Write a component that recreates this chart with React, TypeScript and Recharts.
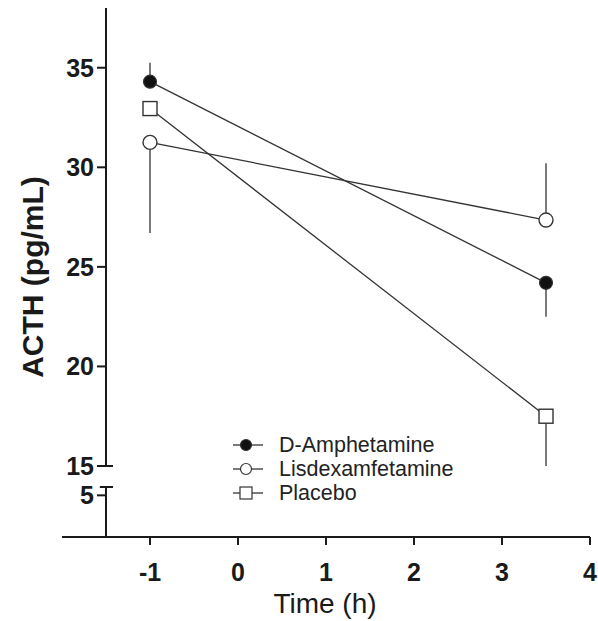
import React from "react";
import {
  LineChart,
  Line,
  XAxis,
  YAxis,
  ErrorBar,
  ReferenceLine,
  Legend,
} from "recharts";

// time points (h)
const times = [-1, 3.5];

// mean ACTH (pg/mL)
const dAmphetamine = [34.3, 24.2];
const lisdexamfetamine = [31.25, 27.35];
const placebo = [32.95, 17.5];

// one-sided SEM bars as [below, above]
const dAmphetamineErr = [[0, 0.95], [1.7, 0]];
const lisdexamfetamineErr = [[4.55, 0], [0, 2.85]];
const placeboErr = [[0, 0], [2.5, 0]];

const xTicks = [-1, 0, 1, 2, 3, 4];
const yTicksUpper = [15, 20, 25, 30, 35];
const yTicksLower = [5];

const seriesNames = ["D-Amphetamine", "Lisdexamfetamine", "Placebo"];

const data = times.map((t, i) => ({
  time: t,
  damph: dAmphetamine[i],
  damphErr: dAmphetamineErr[i],
  lisdex: lisdexamfetamine[i],
  lisdexErr: lisdexamfetamineErr[i],
  placebo: placebo[i],
  placeboErr: placeboErr[i],
}));

const FONT = "'Liberation Sans', Arial, sans-serif";
const AXIS = "#1a1a1a";
const LINE = "#333";
const ERR = "#7a7a7a";

const SquareDot = (props: any) => {
  const { cx, cy } = props;
  if (cx == null || cy == null) return null;
  return (
    <rect
      key={`sq-${cx}-${cy}`}
      x={cx - 7}
      y={cy - 7}
      width={14}
      height={14}
      fill="#fff"
      stroke={LINE}
      strokeWidth={1.4}
    />
  );
};

const marker = (i: number) => {
  if (i === 0) return <circle cx={13} cy={10} r={5.5} fill="#111" stroke={LINE} strokeWidth={1.2} />;
  if (i === 1) return <circle cx={13} cy={10} r={5.5} fill="#fff" stroke={LINE} strokeWidth={1.2} />;
  return <rect x={7} y={4} width={12} height={12} fill="#fff" stroke={LINE} strokeWidth={1.2} />;
};

const renderLegend = () => (
  <div style={{ fontFamily: FONT, fontSize: 21.5, color: "#222" }}>
    {seriesNames.map((name, i) => (
      <div key={name} style={{ display: "flex", alignItems: "center", height: 24 }}>
        <svg width={32} height={20} style={{ marginRight: 14 }}>
          <line x1={0} y1={10} x2={30} y2={10} stroke={LINE} strokeWidth={1.3} />
          {marker(i)}
        </svg>
        <span>{name}</span>
      </div>
    ))}
  </div>
);

const tickStyle = { fontFamily: FONT, fontSize: 25, fontWeight: 700, fill: "#1a1a1a" };

export default function App() {
  return (
    <div style={{ position: "absolute", left: 0, top: 0, width: 598, height: 621, background: "#fff" }}>
      {/* lower part: x axis and the short y segment below the break */}
      <div style={{ position: "absolute", left: 0, top: 0 }}>
        <LineChart width={598} height={621} data={data} margin={{ top: 487, right: 8, bottom: 0, left: 0 }}>
          <XAxis
            type="number"
            dataKey="time"
            domain={[-1.5, 4]}
            ticks={xTicks}
            allowDataOverflow
            height={84}
            tick={tickStyle}
            tickSize={8}
            tickMargin={18}
            axisLine={{ stroke: AXIS, strokeWidth: 2 }}
            tickLine={{ stroke: AXIS, strokeWidth: 2 }}
            label={{
              content: () => (
                <text x={325} y={613} textAnchor="middle" fontFamily={FONT} fontSize={28} fill="#1a1a1a">
                  Time (h)
                </text>
              ),
            }}
          />
          <YAxis
            type="number"
            domain={[0, 6]}
            ticks={yTicksLower}
            allowDataOverflow
            width={106}
            tick={tickStyle}
            tickSize={9}
            tickMargin={3}
            axisLine={{ stroke: AXIS, strokeWidth: 2 }}
            tickLine={{ stroke: AXIS, strokeWidth: 2 }}
          />
          <ReferenceLine
            segment={[{ x: -2, y: 0 }, { x: -1.5, y: 0 }]}
            stroke={AXIS}
            strokeWidth={2}
            ifOverflow="visible"
          />
          <ReferenceLine
            segment={[{ x: -1.57, y: 6 }, { x: -1.42, y: 6 }]}
            stroke={AXIS}
            strokeWidth={2}
            ifOverflow="visible"
          />
        </LineChart>
      </div>

      {/* upper part: the data */}
      <div style={{ position: "absolute", left: 0, top: 0 }}>
        <LineChart width={598} height={621} data={data} margin={{ top: 8, right: 8, bottom: 155, left: 0 }}>
          <XAxis type="number" dataKey="time" domain={[-1.5, 4]} hide allowDataOverflow />
          <YAxis
            type="number"
            domain={[15, 38]}
            ticks={yTicksUpper}
            allowDataOverflow
            width={106}
            tick={tickStyle}
            tickSize={9}
            tickMargin={3}
            axisLine={{ stroke: AXIS, strokeWidth: 2 }}
            tickLine={{ stroke: AXIS, strokeWidth: 2 }}
            label={{
              content: () => (
                <text
                  x={32}
                  y={277}
                  transform="rotate(-90 32 277)"
                  textAnchor="middle"
                  dominantBaseline="central"
                  fontFamily={FONT}
                  fontSize={30}
                  fontWeight={700}
                  fill="#1a1a1a"
                >
                  ACTH (pg/mL)
                </text>
              ),
            }}
          />
          <ReferenceLine
            segment={[{ x: -1.5, y: 15 }, { x: -1.42, y: 15 }]}
            stroke={AXIS}
            strokeWidth={2}
            ifOverflow="visible"
          />
          <Legend
            layout="vertical"
            align="center"
            verticalAlign="middle"
            content={renderLegend}
            wrapperStyle={{ left: 233, top: 433, bottom: "auto", width: 300 }}
          />
          <Line
            dataKey="lisdex"
            stroke={LINE}
            strokeWidth={1.3}
            dot={{ r: 7, fill: "#fff", stroke: LINE, strokeWidth: 1.4 }}
            isAnimationActive={false}
          >
            <ErrorBar dataKey="lisdexErr" direction="y" width={0} stroke={ERR} strokeWidth={2} isAnimationActive={false} />
          </Line>
          <Line
            dataKey="placebo"
            stroke={LINE}
            strokeWidth={1.3}
            dot={<SquareDot />}
            isAnimationActive={false}
          >
            <ErrorBar dataKey="placeboErr" direction="y" width={0} stroke={ERR} strokeWidth={2} isAnimationActive={false} />
          </Line>
          <Line
            dataKey="damph"
            stroke={LINE}
            strokeWidth={1.3}
            dot={{ r: 6.5, fill: "#111", stroke: LINE, strokeWidth: 1.2 }}
            isAnimationActive={false}
          >
            <ErrorBar dataKey="damphErr" direction="y" width={0} stroke={ERR} strokeWidth={2} isAnimationActive={false} />
          </Line>
        </LineChart>
      </div>
    </div>
  );
}
